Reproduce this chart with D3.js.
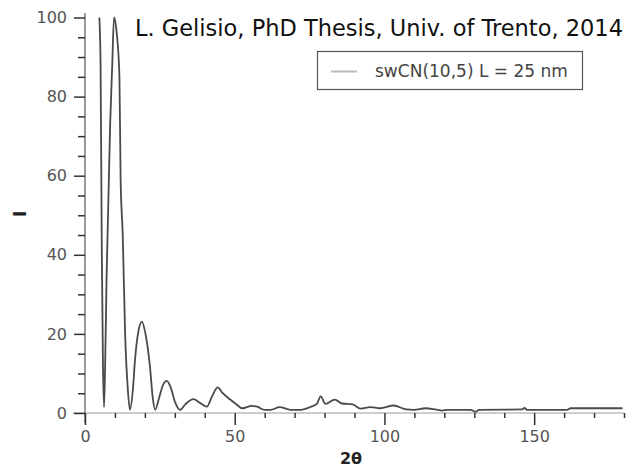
<!DOCTYPE html>
<html>
<head>
<meta charset="utf-8">
<script src="https://cdn.jsdelivr.net/npm/d3@7"></script>
<style>
  html, body { margin: 0; padding: 0; background: #fff; }
  svg { display: block; }
</style>
</head>
<body>
<svg id="chart" width="630" height="467"></svg>
<script>
// Diffraction pattern of a single-wall carbon nanotube, intensity vs 2θ
const twoTheta = [4.8, 5.2, 5.6, 6.0, 6.35, 6.7, 7.2, 8.4, 9.1, 9.7, 10.6, 11.5, 11.9, 12.6, 13.4, 14.3, 15.0,
  16.0, 16.7, 17.8, 19.0, 20.2, 21.7, 22.6, 23.4, 24.8, 26.0, 27.3, 28.6, 30.2, 31.8, 33.5, 36.2, 38.5, 40.7,
  42.3, 44.3, 46.0, 48.5, 50.5, 52.5, 55.7, 57.5, 60.0, 62.0, 65.0, 68.6, 72.0, 75.2, 77.5, 78.7, 80.3, 83.4,
  85.8, 89.4, 92.0, 95.3, 98.5, 103.1, 107.3, 109.8, 113.7, 117.0, 119.3, 121.0, 128.8, 130.4, 131.5, 146.0,
  146.8, 147.6, 161.0, 162.2, 179.5];
const intensity = [100, 88, 42, 12, 1.5, 11, 34, 73, 88, 100, 96, 85, 59, 45, 20, 6, 0.8,
  6, 13.4, 20.5, 23.1, 20, 11.7, 4, 0.8, 4, 7, 8.1, 6.5, 2.5, 0.8, 2.2, 3.5, 2.5, 1.6,
  4, 6.5, 5, 3.4, 2.2, 1.2, 1.8, 1.6, 0.8, 0.8, 1.5, 0.8, 0.8, 1.5, 2.4, 4.2, 2.3, 3.4,
  2.4, 2.2, 1.1, 1.5, 1.2, 1.9, 0.9, 0.8, 1.2, 0.9, 0.6, 0.8, 0.8, 0.3, 0.8, 0.9,
  1.3, 0.8, 0.8, 1.2, 1.2];

const xMajorTicks = [0, 50, 100, 150];
const xMinorTicks = [10, 20, 30, 40, 60, 70, 80, 90, 110, 120, 130, 140, 160, 170, 180];
const yMajorTicks = [0, 20, 40, 60, 80, 100];
const yMinorTicks = [5, 10, 15, 25, 30, 35, 45, 50, 55, 65, 70, 75, 85, 90, 95];

const titleText = "L. Gelisio, PhD Thesis, Univ. of Trento, 2014";
const seriesName = "swCN(10,5) L = 25 nm";
const xTitle = "2θ";
const yTitle = "I";

const svg = d3.select("#chart");
const font = "'DejaVu Sans', Verdana, sans-serif";

const x = d3.scaleLinear().domain([0, 180]).range([85, 624]);
const y = d3.scaleLinear().domain([0, 100]).range([413, 17.5]);

// axis baselines (they overshoot the origin a little)
svg.append("line")
  .attr("x1", 73).attr("x2", x(180))
  .attr("y1", y(0)).attr("y2", y(0))
  .attr("stroke", "#bdbdbd").attr("stroke-width", 1.5);
svg.append("line")
  .attr("x1", x(0)).attr("x2", x(0))
  .attr("y1", 13).attr("y2", y(0) + 10)
  .attr("stroke", "#9a9a9a").attr("stroke-width", 2);

function styleAxis(g) {
  g.select(".domain").remove();
  g.selectAll(".tick line").attr("stroke", "#333").attr("stroke-width", 1.5);
  g.selectAll(".tick text")
    .attr("fill", "#555")
    .style("font-family", font)
    .style("font-size", "16px");
}

// x axis
svg.append("g")
  .attr("transform", `translate(0,${y(0)})`)
  .call(d3.axisBottom(x).tickValues(xMinorTicks).tickSize(5).tickFormat(""))
  .call(styleAxis);
svg.append("g")
  .attr("transform", `translate(0,${y(0)})`)
  .call(d3.axisBottom(x).tickValues(xMajorTicks).tickSize(12).tickPadding(6).tickFormat(d3.format("d")))
  .call(styleAxis);

// y axis
svg.append("g")
  .attr("transform", `translate(${x(0)},0)`)
  .call(d3.axisLeft(y).tickValues(yMinorTicks).tickSize(7).tickFormat(""))
  .call(styleAxis);
svg.append("g")
  .attr("transform", `translate(${x(0)},0)`)
  .call(d3.axisLeft(y).tickValues(yMajorTicks).tickSize(11).tickPadding(7).tickFormat(d3.format("d")))
  .call(styleAxis);

// axis titles
svg.append("text")
  .attr("x", 351).attr("y", 464)
  .attr("text-anchor", "middle")
  .style("font-family", font).style("font-size", "16px").style("font-weight", "bold")
  .attr("fill", "#222")
  .text(xTitle);
svg.append("text")
  .attr("transform", "translate(26,214) rotate(-90)")
  .attr("text-anchor", "middle")
  .style("font-family", font).style("font-size", "18px").style("font-weight", "bold")
  .attr("fill", "#222")
  .text(yTitle);

// data curve
const pts = twoTheta.map((t, i) => [t, intensity[i]]);
svg.append("path")
  .datum(pts)
  .attr("fill", "none")
  .attr("stroke", "#4a4a4a")
  .attr("stroke-width", 1.8)
  .attr("stroke-linejoin", "round")
  .attr("d", d3.line().x(d => x(d[0])).y(d => y(d[1])).curve(d3.curveMonotoneX));

// helper: size text so it spans a given width
function fitText(sel, width) {
  const base = 20;
  sel.style("font-size", base + "px");
  const w = sel.node().getComputedTextLength();
  sel.style("font-size", (base * width / w).toFixed(2) + "px");
}

// title
const title = svg.append("text")
  .attr("x", 135).attr("y", 36)
  .style("font-family", font)
  .attr("fill", "#111")
  .text(titleText);
fitText(title, 488);

// legend
svg.append("rect")
  .attr("x", 317.5).attr("y", 51.5)
  .attr("width", 265).attr("height", 38)
  .attr("fill", "#fff").attr("stroke", "#555").attr("stroke-width", 1.2);
svg.append("line")
  .attr("x1", 331).attr("x2", 357)
  .attr("y1", 71.5).attr("y2", 71.5)
  .attr("stroke", "#bbb").attr("stroke-width", 2);
const legText = svg.append("text")
  .attr("x", 375).attr("y", 77)
  .style("font-family", font)
  .attr("fill", "#444")
  .text(seriesName);
fitText(legText, 193);
</script>
</body>
</html>
